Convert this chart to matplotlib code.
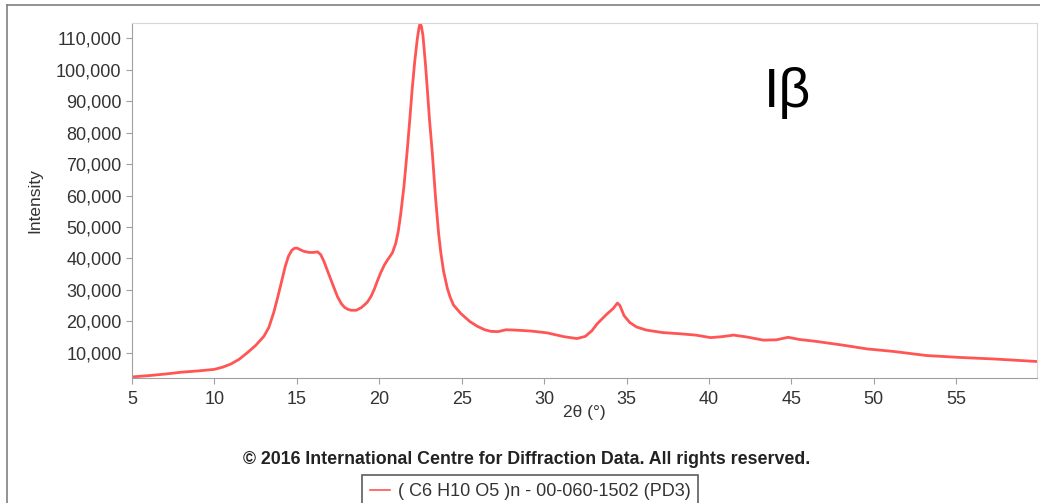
import matplotlib
matplotlib.use('Agg')
import matplotlib.pyplot as plt
from matplotlib.lines import Line2D
from matplotlib.ticker import FuncFormatter

# diffraction pattern (2-theta in degrees, intensity)
two_theta = [5.0, 6.0, 7.0, 8.0, 9.0, 10.0, 10.5, 11.0, 11.5, 12.0, 12.5, 13.0,
             13.3, 13.6, 13.83, 14.1, 14.3, 14.5, 14.7, 14.85, 15.0, 15.2, 15.4,
             15.75, 16.0, 16.25, 16.45, 16.65, 16.85, 17.2, 17.47, 17.7, 17.9,
             18.1, 18.3, 18.6, 18.9, 19.1, 19.28, 19.5, 19.7, 19.9, 20.1, 20.3,
             20.5, 20.8, 21.0, 21.15, 21.3, 21.5, 21.7, 21.85, 22.0, 22.15,
             22.3, 22.4, 22.47, 22.55, 22.65, 22.8, 22.92, 23.05, 23.22, 23.42,
             23.6, 23.73, 23.9, 24.13, 24.3, 24.5, 24.94, 25.5, 25.95, 26.4,
             26.76, 27.2, 27.7, 28.2, 29.2, 30.2, 31.2, 32.0, 32.5, 32.9,
             33.22, 33.83, 34.2, 34.45, 34.6, 34.85, 35.2, 35.6, 36.2, 37.2,
             38.3, 39.2, 40.1, 40.8, 41.5, 42.3, 43.3, 44.1, 44.8, 45.5, 46.5,
             48.0, 49.6, 51.2, 53.2, 55.2, 57.3, 59.9]
intensity = [2300, 2700, 3200, 3800, 4200, 4700, 5400, 6400, 7900, 10000, 12300, 15200,
             18000, 22800, 27400, 33200, 37500, 40800, 42600, 43200, 43300, 42800, 42300,
             41900, 41900, 42100, 41200, 39000, 36200, 31400, 27800, 25600, 24400,
             23800, 23500, 23500, 24300, 25200, 26100, 27900, 30200, 33000, 35600, 37800,
             39500, 41800, 44800, 48500, 54000, 63000, 74500, 84000, 94000, 102500,
             109500, 113000, 114700, 114000, 111000, 102000, 93600, 84000, 73500, 59000,
             48000, 42000, 36000, 30500, 27700, 25200, 22500, 19900, 18400, 17300,
             16800, 16700, 17300, 17200, 16900, 16300, 15100, 14500, 15200, 17000,
             19200, 22400, 24100, 25800, 25000, 21800, 19600, 18200, 17200, 16400,
             16000, 15600, 14800, 15100, 15600, 15000, 14000, 14100, 14900, 14200, 13600,
             12500, 11200, 10400, 9100, 8500, 8000, 7200]

x_ticks = [5, 10, 15, 20, 25, 30, 35, 40, 45, 50, 55]
y_ticks = [10000, 20000, 30000, 40000, 50000, 60000, 70000, 80000, 90000, 100000, 110000]

plt.rcParams['font.family'] = ['Liberation Sans', 'DejaVu Sans']

fig = plt.figure(figsize=(10.4, 5.03), dpi=100)
ax = fig.add_axes([0.1269, 0.2485, 0.8702, 0.7058])

line, = ax.plot(two_theta, intensity, color='#ff5555', lw=2.0,
                label='( C6 H10 O5 )n - 00-060-1502 (PD3)')

ax.set_xlim(5, 59.9)
ax.set_ylim(1950, 114900)
ax.set_xticks(x_ticks)
ax.set_yticks(y_ticks)
ax.yaxis.set_major_formatter(FuncFormatter(lambda v, p: f'{int(v):,}'))
ax.tick_params(colors='#a0a0a0', labelcolor='#333333', labelsize=13, length=4)
ax.tick_params(axis='x', pad=5)

for side in ['left', 'bottom']:
    ax.spines[side].set_color('#a0a0a0')
for side in ['top', 'right']:
    ax.spines[side].set_color('#d8d8d8')

ax.set_ylabel('Intensity', fontsize=12.5, color='#333333', labelpad=10)
ax.set_xlabel('2θ (°)', fontsize=12.5, color='#333333', labelpad=-2)

ax.text(0.698, 0.763, 'Iβ', transform=ax.transAxes, fontsize=40, color='black')

fig.text(0.506, 0.086, '© 2016 International Centre for Diffraction Data. All rights reserved.',
         ha='center', va='center', fontsize=12.8, fontweight='bold', color='#222222')

leg = fig.legend(handles=[line], loc='upper center', bbox_to_anchor=(0.51, 0.056),
                 fontsize=13, frameon=True, fancybox=False, handlelength=1.1,
                 borderpad=0.45, handletextpad=0.4, borderaxespad=0)
leg.get_frame().set_edgecolor('#333333')
leg.get_frame().set_linewidth(1.2)
leg.get_lines()[0].set_linewidth(1.2)
for t in leg.get_texts():
    t.set_color('#333333')

# outer panel border (left and top edges visible in the reference)
fig.add_artist(Line2D([0.0067, 0.0067], [0.0, 0.99], transform=fig.transFigure,
                      color='#808080', lw=1.2))
fig.add_artist(Line2D([0.0067, 1.0], [0.99, 0.99], transform=fig.transFigure,
                      color='#808080', lw=1.2))

fig.savefig('out.png', dpi=100)
